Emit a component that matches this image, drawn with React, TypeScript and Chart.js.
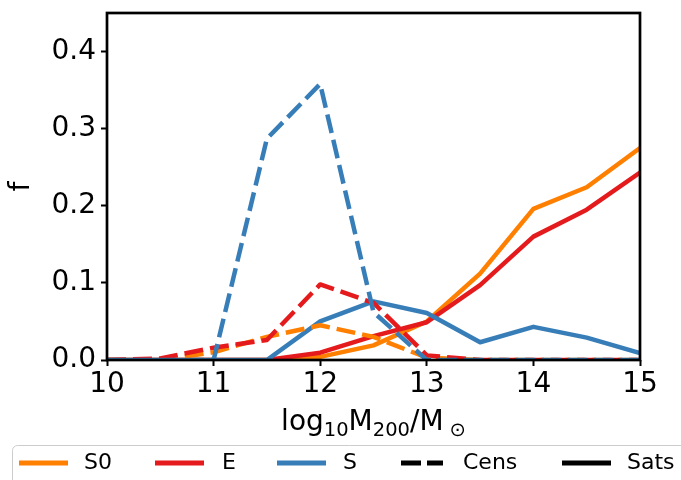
import React, { useEffect, useRef } from "react";
import { Chart, registerables } from "chart.js";

Chart.register(...registerables);

const masses = [10, 10.5, 11, 11.5, 12, 12.5, 13, 13.5, 14, 14.5, 15];
const s0Cens = [0, 0, 0.01, 0.03, 0.045, 0.03, 0.003, 0, 0, 0, 0];
const eCens = [0, 0.002, 0.016, 0.026, 0.098, 0.074, 0.006, 0, 0, 0, 0];
const sCens = [0, 0, 0, 0.287, 0.358, 0.062, 0, 0, 0, 0, 0];
const s0Sats = [0, 0, 0, 0, 0.004, 0.019, 0.05, 0.112, 0.196, 0.224, 0.275];
const eSats = [0, 0, 0, 0, 0.0095, 0.031, 0.049, 0.097, 0.16, 0.195, 0.243];
const sSats = [0, 0, 0, 0, 0.05, 0.076, 0.061, 0.023, 0.043, 0.029, 0.009];
const yTicks = [0, 0.1, 0.2, 0.3, 0.4];

const ORANGE = "#ff7f00";
const RED = "#e41a1c";
const BLUE = "#377eb8";
const FONT = "'DejaVu Sans', sans-serif";
const DASH = [19, 7];

const pts = (arr: number[]) => arr.map((y, i) => ({ x: masses[i], y }));

const legendItems = [
  { label: "S0", color: ORANGE, dash: [] as number[], x0: 19, x1: 68, tx: 84 },
  { label: "E", color: RED, dash: [] as number[], x0: 155, x1: 204, tx: 222 },
  { label: "S", color: BLUE, dash: [] as number[], x0: 277, x1: 326, tx: 343 },
  { label: "Cens", color: "#000", dash: [20, 6], x0: 401, x1: 443, tx: 463 },
  { label: "Sats", color: "#000", dash: [] as number[], x0: 562, x1: 611, tx: 627 },
];

const decorPlugin = {
  id: "decor",
  afterDatasetsDraw(chart: any) {
    const { ctx, chartArea: a } = chart;
    ctx.save();
    ctx.strokeStyle = "#000";
    ctx.lineWidth = 2.7;
    ctx.strokeRect(a.left, a.top, a.right - a.left, a.bottom - a.top);
    ctx.restore();
  },
  afterDraw(chart: any) {
    const { ctx, chartArea: a } = chart;
    ctx.save();
    // x title with subscripts
    const big = `28px ${FONT}`;
    const small = `19.5px ${FONT}`;
    const segs = [
      { t: "log", f: big, dy: 0, gap: 0 },
      { t: "10", f: small, dy: 5.5, gap: 0 },
      { t: "M", f: big, dy: 0, gap: 0 },
      { t: "200", f: small, dy: 5.5, gap: 0 },
      { t: "/M", f: big, dy: 0, gap: 0 },
      { t: "\u2299", f: small, dy: 5.5, gap: 6 },
    ];
    let total = 0;
    const widths = segs.map((s) => {
      ctx.font = s.f;
      const w = ctx.measureText(s.t).width;
      total += w + s.gap;
      return w;
    });
    let x = (a.left + a.right) / 2 - total / 2;
    const base = 430;
    ctx.fillStyle = "#000";
    ctx.textBaseline = "alphabetic";
    ctx.textAlign = "left";
    segs.forEach((s, i) => {
      x += s.gap;
      ctx.font = s.f;
      ctx.fillText(s.t, x, base + s.dy);
      x += widths[i];
    });
    // y title
    ctx.save();
    ctx.translate(22, (a.top + a.bottom) / 2);
    ctx.rotate(-Math.PI / 2);
    ctx.font = big;
    ctx.textAlign = "center";
    ctx.textBaseline = "middle";
    ctx.fillText("f", 0, 0);
    ctx.restore();
    // legend
    ctx.beginPath();
    (ctx as any).roundRect(12.5, 445.5, 700, 80, 5);
    ctx.fillStyle = "rgba(255,255,255,0.8)";
    ctx.fill();
    ctx.strokeStyle = "#cccccc";
    ctx.lineWidth = 1;
    ctx.stroke();
    const ly = 463;
    legendItems.forEach((it) => {
      ctx.beginPath();
      ctx.setLineDash(it.dash);
      ctx.lineCap = "butt";
      ctx.strokeStyle = it.color;
      ctx.lineWidth = 5;
      ctx.moveTo(it.x0, ly);
      ctx.lineTo(it.x1, ly);
      ctx.stroke();
      ctx.setLineDash([]);
      ctx.font = `22px ${FONT}`;
      ctx.fillStyle = "#000";
      ctx.textAlign = "left";
      ctx.textBaseline = "middle";
      ctx.fillText(it.label, it.tx, ly);
    });
    ctx.restore();
  },
};

export default function App() {
  const ref = useRef<HTMLCanvasElement>(null);
  useEffect(() => {
    if (!ref.current) return;
    const mk = (data: number[], color: string, dashed: boolean) => ({
      data: pts(data),
      borderColor: color,
      backgroundColor: color,
      borderWidth: 4.5,
      borderDash: dashed ? DASH : [],
      pointRadius: 0,
      tension: 0,
      fill: false,
      borderCapStyle: "butt" as const,
      borderJoinStyle: "round" as const,
    });
    const chart = new Chart(ref.current, {
      type: "line",
      data: {
        datasets: [
          mk(sCens, BLUE, true),
          mk(eCens, RED, true),
          mk(s0Cens, ORANGE, true),
          mk(sSats, BLUE, false),
          mk(eSats, RED, false),
          mk(s0Sats, ORANGE, false),
        ],
      },
      options: {
        responsive: false,
        animation: false,
        layout: { padding: { top: 13, right: 41, left: 0, bottom: 0 } },
        plugins: { legend: { display: false }, tooltip: { enabled: false } },
        scales: {
          x: {
            type: "linear",
            min: 10,
            max: 15,
            ticks: {
              stepSize: 1,
              color: "#000",
              font: { family: FONT, size: 28 },
              padding: 2,
              maxRotation: 0,
            },
            grid: {
              display: true,
              drawOnChartArea: false,
              drawTicks: true,
              tickLength: 6,
              tickWidth: 2,
              tickColor: "#000",
            },
            border: { display: false },
            afterFit: (s: any) => {
              s.height = 120;
              s.paddingLeft = 0;
              s.paddingRight = 0;
            },
          },
          y: {
            type: "linear",
            min: 0,
            max: 0.45,
            afterBuildTicks: (s: any) => {
              s.ticks = yTicks.map((v) => ({ value: v }));
            },
            ticks: {
              color: "#000",
              font: { family: FONT, size: 28 },
              padding: 5,
              callback: (v: any) => Number(v).toFixed(1),
            },
            grid: {
              display: true,
              drawOnChartArea: false,
              drawTicks: true,
              tickLength: 6,
              tickWidth: 2,
              tickColor: "#000",
            },
            border: { display: false },
            afterFit: (s: any) => {
              s.width = 107;
              s.paddingTop = 0;
              s.paddingBottom = 0;
            },
          },
        },
      },
      plugins: [decorPlugin],
    });
    return () => chart.destroy();
  }, []);
  return (
    <div style={{ position: "absolute", left: 0, top: 0, width: 681, height: 480, background: "#fff" }}>
      <canvas ref={ref} width={681} height={480} style={{ display: "block" }} />
    </div>
  );
}
